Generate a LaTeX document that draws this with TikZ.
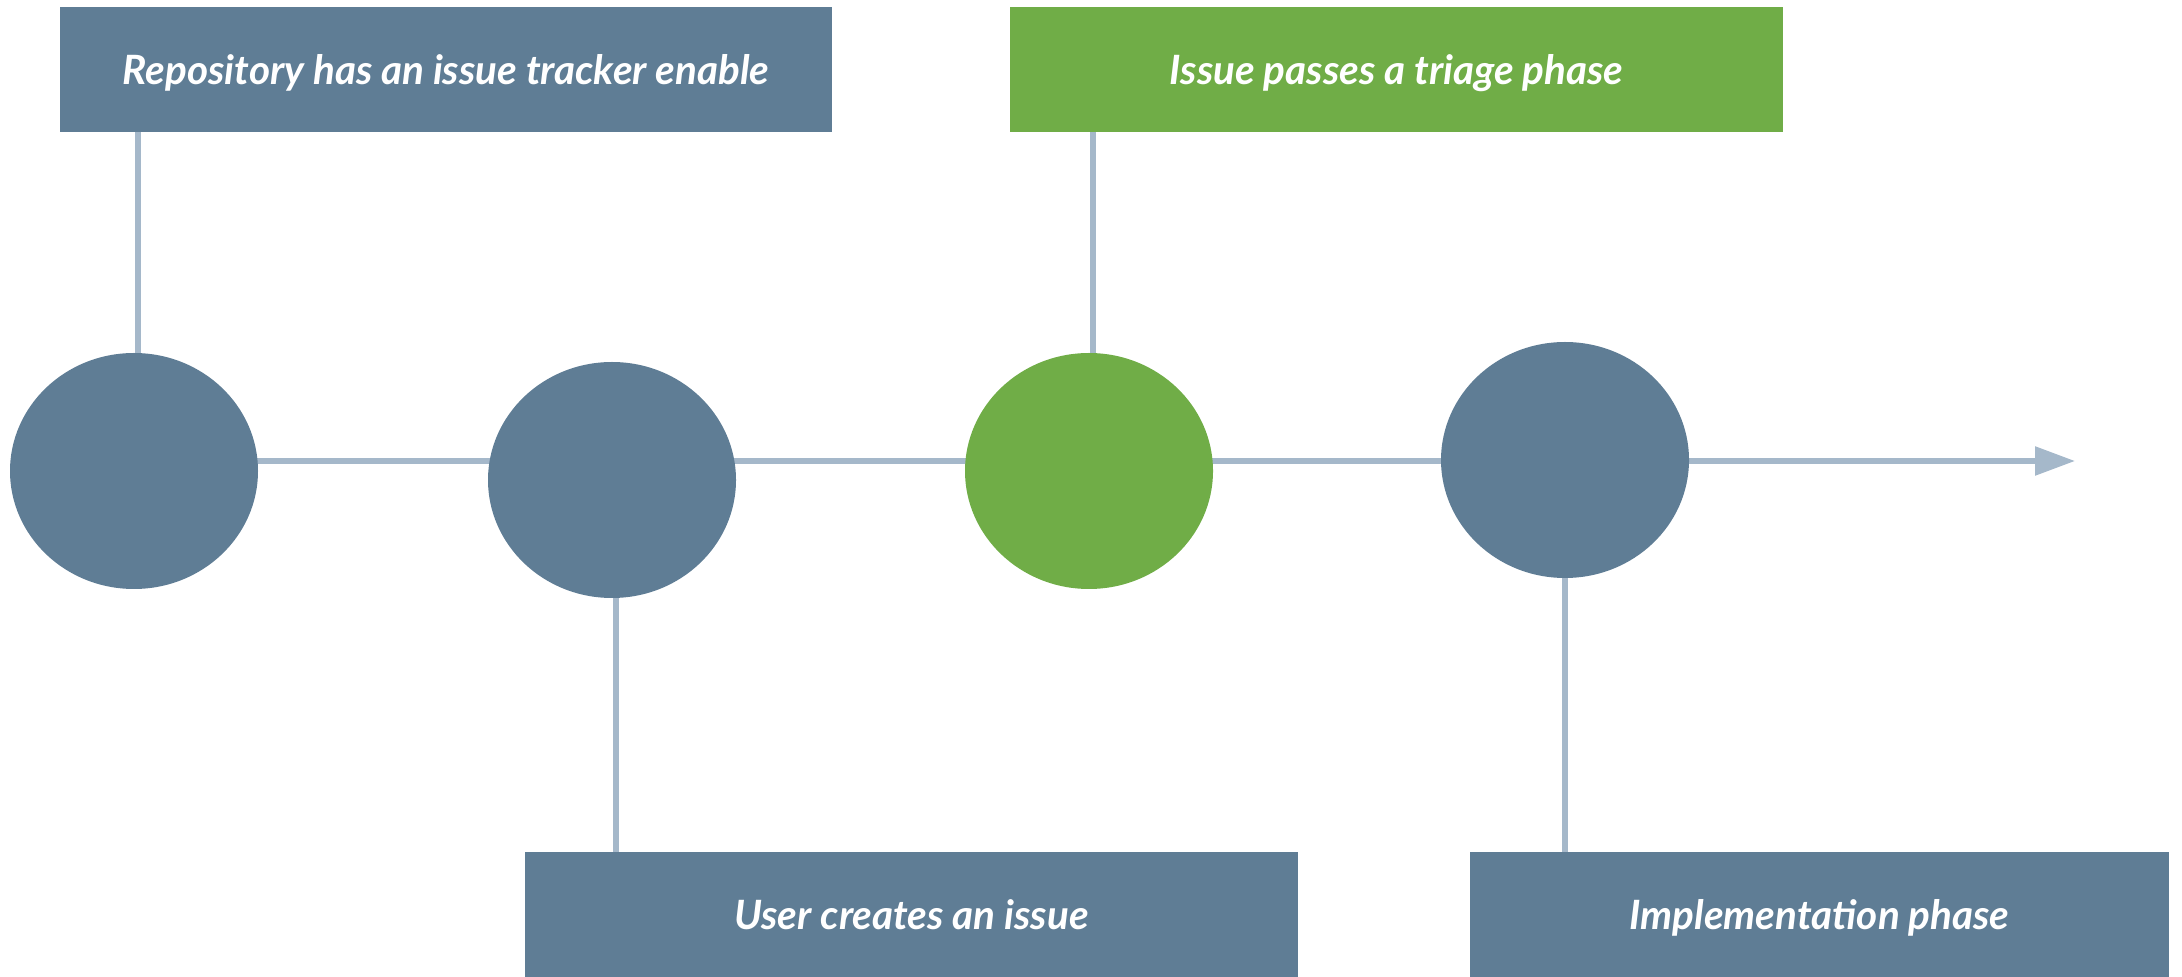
\documentclass[tikz,border=0pt]{standalone}
\usepackage{fontspec}
\setmainfont{Lato}
\usetikzlibrary{arrows.meta,shapes.geometric}
\definecolor{slate}{HTML}{5F7D95}
\definecolor{leaf}{HTML}{70AD47}
\definecolor{wire}{HTML}{A5B8CA}
\pgfdeclarelayer{bg}
\pgfsetlayers{bg,main}
\tikzset{
  label box/.style={rectangle, inner sep=0pt, minimum height=62.5pt, text=white,
    text depth=0pt, font=\fontsize{20.2}{24}\selectfont\bfseries\itshape},
  dot/.style={ellipse, inner sep=0pt, minimum width=124pt, minimum height=118pt},
  wire line/.style={draw=wire, line width=2.75pt},
}
\begin{document}
\begin{tikzpicture}[x=0.5pt, y=-0.5pt]
\useasboundingbox (0,0) rectangle (2182,977);
% boxes
\node[label box, fill=slate, minimum width=386pt] (b1) at (446,69.5) {Repository has an issue tracker enable};
\node[label box, fill=leaf, minimum width=386.5pt] (b2) at (1396.5,69.5) {Issue passes a triage phase};
\node[label box, fill=slate, minimum width=386.5pt] (b3) at (911.5,914.5) {User creates an issue};
\node[label box, fill=slate, minimum width=349.5pt] (b4) at (1819.5,914.5) {Implementation phase};
% ellipses
\node[dot, fill=slate] (e1) at (134,471) {};
\node[dot, fill=slate] (e2) at (612,480) {};
\node[dot, fill=leaf] (e3) at (1089,471) {};
\node[dot, fill=slate] (e4) at (1565,460) {};
\coordinate (tip) at (2075,461);
\begin{pgfonlayer}{bg}
\draw[wire line, -{Triangle[length=20pt, width=14pt]}] (e1.center |- tip) -- (tip);
\draw[wire line] ([xshift=2pt]e1.north) -- ([xshift=2pt]e1.north |- b1.south);
\draw[wire line] ([xshift=2pt]e2.south) -- ([xshift=2pt]e2.south |- b3.north);
\draw[wire line] ([xshift=2pt]e3.north) -- ([xshift=2pt]e3.north |- b2.south);
\draw[wire line] (e4.south) -- (e4.south |- b4.north);
\end{pgfonlayer}
\end{tikzpicture}
\end{document}
